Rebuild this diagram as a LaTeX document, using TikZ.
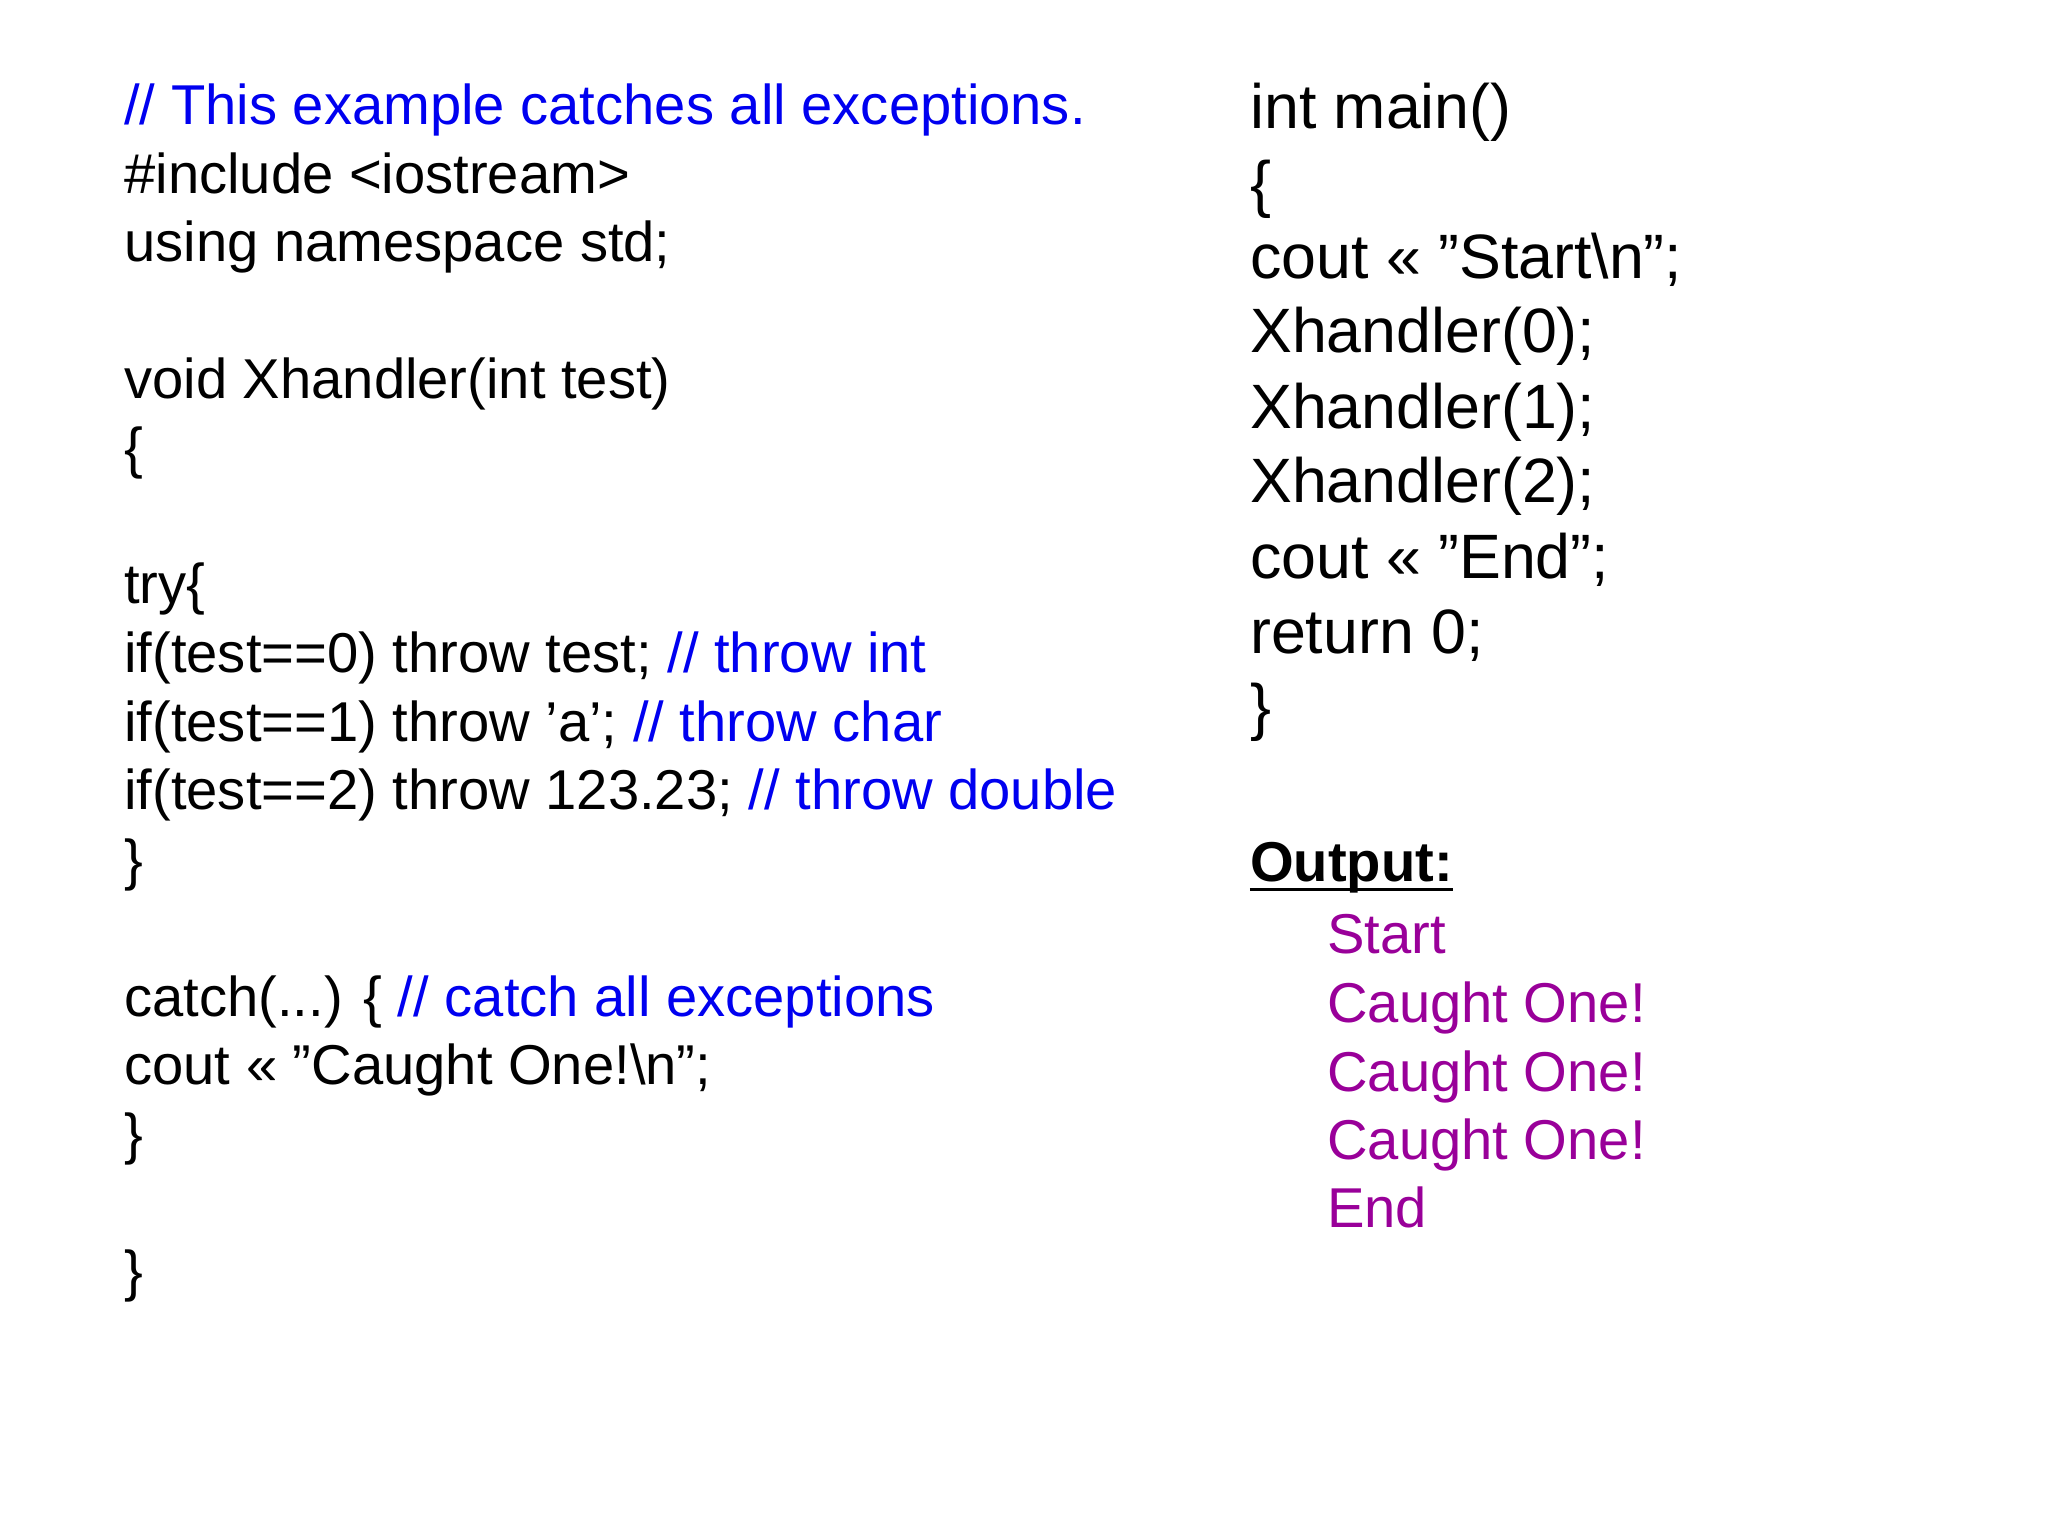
\documentclass[tikz,border=0pt]{standalone}
\usepackage{fontspec}
\setmainfont{Liberation Sans}
\definecolor{cblue}{RGB}{0,0,240}
\definecolor{cpurp}{RGB}{153,0,153}
\begin{document}
\begin{tikzpicture}[x=1pt,y=-1pt,
  L/.style={anchor=base west,inner sep=0pt,font=\fontsize{43}{50}\selectfont},
  R/.style={anchor=base west,inner sep=0pt,font=\fontsize{48}{56}\selectfont},
  O/.style={anchor=base west,inner sep=0pt,font=\fontsize{43}{50}\selectfont,text=cpurp}]
\useasboundingbox (0,0) rectangle (1568,1176);
\node[L,text=cblue] (l1) at (95,95) {// This example catches all exceptions.};
\node[L] (l2) at (95,148) {\#include <iostream>};
\node[L] (l3) at (95,200) {using namespace std;};
\node[L] (l4) at (95,305) {void Xhandler(int test)};
\node[L] (l5) at (95,358) {\{};
\node[L] (l6) at (95,462) {try\{};
\node[L] (l7) at (95,515) {if(test==0) throw test; \textcolor{cblue}{// throw int}};
\node[L] (l8) at (95,568) {if(test==1) throw 'a'; \textcolor{cblue}{// throw char}};
\node[L] (l9) at (95,620) {if(test==2) throw 123.23; \textcolor{cblue}{// throw double}};
\node[L] (l10) at (95,673) {\}};
\node[L] (l11) at (95,778) {catch(...) \{ \textcolor{cblue}{// catch all exceptions}};
\node[L] (l12) at (95,830) {cout << "Caught One!\textbackslash n";};
\node[L] (l13) at (95,883) {\}};
\node[L] (l14) at (95,988) {\}};
\node[R] (r1) at (957,98) {int main()};
\node[R] (r2) at (957,157) {\{};
\node[R] (r3) at (957,213) {cout << "Start\textbackslash n";};
\node[R] (r4) at (957,270) {Xhandler(0);};
\node[R] (r5) at (957,328) {Xhandler(1);};
\node[R] (r6) at (957,385) {Xhandler(2);};
\node[R] (r7) at (957,443) {cout << "End";};
\node[R] (r8) at (957,500) {return 0;};
\node[R] (r9) at (957,558) {\}};
\node[L,font=\fontsize{43}{50}\selectfont\bfseries] (out) at (957,675) {Output:};
\draw[line width=3pt] ([yshift=-6]out.base west) -- ([yshift=-6]out.base east);
\node[O] (o1) at (1016,730) {Start};
\node[O] (o2) at (1016,783) {Caught One!};
\node[O] (o3) at (1016,836) {Caught One!};
\node[O] (o4) at (1016,888) {Caught One!};
\node[O] (o5) at (1016,940) {End};
\end{tikzpicture}
\end{document}
